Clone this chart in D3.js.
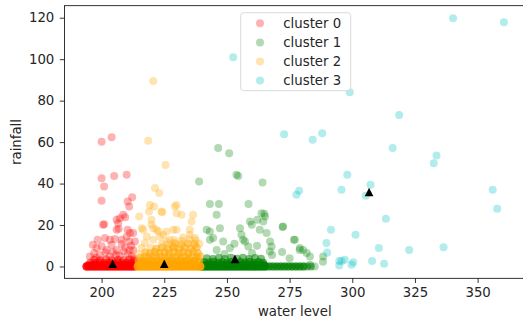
<!DOCTYPE html>
<html>
<head>
<meta charset="utf-8">
<script src="https://cdn.jsdelivr.net/npm/d3@7"></script>
<style>
  body { margin: 0; background: #fff; }
  svg { display: block; font-family: "DejaVu Sans", sans-serif; }
</style>
</head>
<body>
<svg id="chart" width="523" height="320"></svg>
<script>
// tick labels
const xTicks = [200, 225, 250, 275, 300, 325, 350];
const yTicks = [0, 20, 40, 60, 80, 100, 120];

const clusterNames = ["cluster 0", "cluster 1", "cluster 2", "cluster 3"];
const clusterColors = ["#ff0000", "#008000", "#ffa500", "#00bfbf"];

// centroids [water level, rainfall]
const centroids = [[204.4, 1.3], [253.2, 3.6], [225.0, 1.3], [306.7, 35.9]];

// scattered points [water level, rainfall]
const scatter0 = [
  [200.0, 60.2], [204.0, 62.4], [200.0, 42.6], [205.0, 43.7], [210.0, 44.2], [201.0, 38.6],
  [200.0, 31.7], [210.4, 31.3], [212.2, 33.4], [211.0, 28.9], [201.0, 20.4], [206.0, 22.5],
  [207.3, 23.3], [209.4, 23.8], [208.6, 24.9], [206.8, 18.2], [210.4, 17.7], [212.6, 16.1],
  [211.3, 16.1], [206.0, 17.7], [198.4, 12.9], [201.3, 13.7], [203.3, 12.9], [205.3, 13.3],
  [208.0, 12.9], [211.0, 12.0], [213.3, 12.0], [198.0, 8.9], [202.0, 8.0], [206.0, 8.0],
  [209.3, 9.3], [212.6, 8.0], [195.3, 4.8], [199.3, 5.6], [203.3, 4.8], [207.3, 5.2],
  [212.0, 4.8], [200.6, 20.1], [206.6, 20.9], [197.0, 6.5], [204.5, 7.0], [210.5, 6.0],
  [196.5, 10.5], [204.0, 10.5], [208.0, 10.8], [211.8, 10.0], [200.0, 9.8], [210.0, 14.3],
  [201.5, 6.8], [205.8, 5.5], [208.8, 7.2], [211.2, 7.8], [197.8, 4.2], [213.0, 4.0]
];
const scatter1 = [
  [253.8, 44.2], [254.5, 43.7], [238.9, 41.0], [264.2, 40.5], [243.2, 30.1], [246.8, 30.1],
  [258.6, 30.1], [264.9, 25.4], [259.2, 21.7], [262.1, 22.5], [241.9, 17.7], [247.2, 18.5],
  [255.2, 18.5], [272.4, 19.3], [263.1, 17.7], [267.2, 12.0], [277.1, 12.9], [279.1, 8.9],
  [280.4, 8.0], [265.8, 16.1], [243.2, 12.9], [248.5, 12.0], [256.5, 12.9], [258.5, 9.6],
  [245.9, 8.0], [251.2, 8.9], [288.4, 4.8], [246.5, 57.1], [250.9, 54.6], [245.9, 24.9],
  [243.2, 16.9], [244.5, 13.7], [255.8, 15.3], [257.2, 12.0], [259.9, 20.1], [263.8, 25.7],
  [265.2, 24.1], [264.5, 21.7], [267.8, 9.6], [267.1, 7.2], [281.8, 6.5], [283.1, 4.8],
  [268.0, 5.6], [276.7, 12.9], [272.2, 19.0], [279.0, 8.0], [262.0, 10.0], [253.0, 11.0],
  [249.0, 6.0], [260.0, 6.5], [272.0, 7.0], [275.0, 4.0], [288.3, 2.3], [283.1, 0.8]
];
const scatter2 = [
  [220.6, 89.5], [218.6, 60.6], [225.5, 49.0], [221.3, 37.8], [223.0, 35.4], [219.3, 29.7],
  [220.9, 28.9], [224.2, 26.2], [215.0, 24.1], [218.9, 26.5], [219.9, 22.5], [216.6, 17.7],
  [220.6, 18.5], [222.6, 16.9], [224.6, 15.3], [228.6, 17.7], [229.9, 29.7], [217.3, 11.3],
  [220.6, 12.9], [227.2, 12.9], [216.0, 8.9], [228.6, 9.6], [229.2, 28.9], [231.9, 24.9],
  [236.5, 24.9], [235.9, 21.7], [229.9, 17.7], [235.2, 17.7], [235.2, 15.3], [237.2, 13.7],
  [223.9, 26.5], [229.9, 25.7], [216.0, 18.5], [219.9, 20.1], [221.9, 17.7], [225.9, 16.9],
  [223.3, 14.5], [218.0, 14.5], [232.5, 14.0], [226.0, 12.0], [214.5, 6.0]
];
const scatter3 = [
  [252.5, 100.9], [340.2, 119.7], [360.5, 117.8], [299.0, 84.0], [318.7, 73.1], [316.1, 57.1],
  [333.6, 53.5], [332.5, 49.8], [298.0, 44.2], [295.7, 37.0], [307.3, 39.4], [305.4, 34.1],
  [356.0, 37.0], [357.8, 27.8], [313.4, 23.0], [301.3, 15.3], [310.6, 8.9], [322.7, 8.0],
  [336.4, 9.3], [307.9, 2.7], [312.7, 1.3], [300.4, 2.1], [299.7, 0.8], [295.7, 2.7],
  [297.0, 3.2], [272.8, 63.8], [284.2, 61.1], [288.0, 64.3], [278.8, 36.5], [277.7, 34.6],
  [291.5, 17.7], [289.7, 11.3], [290.0, 6.7], [294.8, 2.7], [294.8, 0.5]
];

// dense bands near zero rainfall [water level, rainfall, number of points]
const stack0 = [
  [194.0, 0, 6], [194.6, 0.6, 3], [195.2, 0, 6], [195.8, 0.6, 3], [196.4, 0, 6], [197.0, 0.6, 3],
  [197.6, 0, 6], [198.2, 0.6, 3], [198.8, 0, 6], [199.4, 0.6, 3], [200.0, 0, 6], [200.6, 0.6, 3],
  [201.2, 0, 6], [201.8, 0.6, 3], [202.4, 0, 6], [203.0, 0.6, 3], [203.6, 0, 6], [204.2, 0.6, 3],
  [204.8, 0, 6], [205.4, 0.6, 3], [206.0, 0, 6], [206.6, 0.6, 3], [207.2, 0, 6], [207.8, 0.6, 3],
  [208.4, 0, 6], [209.0, 0.6, 3], [209.6, 0, 6], [210.2, 0.6, 3], [210.8, 0, 6], [211.4, 0.6, 3],
  [212.0, 0, 6], [212.6, 0.6, 3], [213.2, 0, 5],
  [195.5, 1.8, 2], [197.3, 1.5, 3], [199.1, 1.9, 3], [200.9, 1.5, 3], [202.7, 1.8, 3],
  [204.6, 1.5, 3], [206.4, 1.9, 3], [208.2, 1.5, 3], [210.0, 1.8, 3], [211.8, 1.5, 3], [213.2, 1.8, 2],
  [197.0, 3.2, 2], [199.4, 3.0, 2], [201.8, 3.4, 2], [204.1, 3.0, 2], [206.5, 3.3, 2],
  [208.8, 3.0, 2], [211.1, 3.4, 2], [212.9, 2.9, 2]
];
const stack1 = [
  [240.2, 0, 6], [240.8, 0.7, 3], [241.4, 0, 6], [242.0, 0.7, 3], [242.6, 0, 6], [243.2, 0.7, 3],
  [243.8, 0, 6], [244.4, 0.7, 3], [245.0, 0, 6], [245.6, 0.7, 3], [246.2, 0, 6], [246.8, 0.7, 3],
  [247.4, 0, 6], [248.0, 0.7, 3], [248.6, 0, 6], [249.2, 0.7, 3], [249.8, 0, 6], [250.4, 0.7, 3],
  [251.0, 0, 6], [251.6, 0.7, 3], [252.2, 0, 6], [252.8, 0.7, 3], [253.4, 0, 6], [254.0, 0.7, 3],
  [254.6, 0, 6], [255.2, 0.7, 3], [255.8, 0, 6], [256.4, 0.7, 3], [257.0, 0, 6], [257.6, 0.7, 3],
  [258.2, 0, 6], [258.8, 0.7, 3], [259.4, 0, 6], [260.0, 0.7, 3], [260.6, 0, 6], [261.2, 0.7, 3],
  [261.8, 0, 6], [262.4, 0.7, 3], [263.0, 0, 6], [263.6, 0.7, 3], [264.2, 0, 6], [264.8, 0.7, 3],
  [265.4, 0, 6],
  [267.0, 0, 4], [268.5, 0, 4], [270.0, 0, 4], [271.5, 0, 4], [273.0, 0, 4], [274.5, 0, 4],
  [276.0, 0, 4], [277.5, 0, 4], [279.0, 0, 4], [280.5, 0, 4], [282.0, 0, 2], [283.5, 0, 2],
  [285.0, 0, 1],
  [241.0, 2.2, 3], [242.8, 1.8, 3], [244.6, 2.3, 3], [246.4, 1.8, 3], [248.2, 2.2, 3],
  [250.0, 1.8, 3], [251.8, 2.3, 3], [253.6, 1.8, 3], [255.4, 2.2, 3], [257.2, 1.8, 3],
  [259.0, 2.3, 3], [260.8, 1.8, 3], [262.6, 2.2, 3], [264.4, 1.8, 3],
  [242.0, 4.0, 2], [244.4, 3.6, 2], [246.8, 4.2, 2], [249.2, 3.6, 2], [251.6, 4.2, 2],
  [254.0, 3.7, 2], [256.4, 4.2, 2], [258.8, 3.6, 2], [261.2, 4.1, 2], [263.6, 3.7, 2]
];
const stack2 = [
  [214.4, 0, 6], [215.0, 0.8, 3], [215.6, 0, 6], [216.2, 0.8, 3], [216.8, 0, 6], [217.4, 0.8, 3],
  [218.0, 0, 6], [218.6, 0.8, 3], [219.2, 0, 6], [219.8, 0.8, 3], [220.4, 0, 6], [221.0, 0.8, 3],
  [221.6, 0, 6], [222.2, 0.8, 3], [222.8, 0, 6], [223.4, 0.8, 3], [224.0, 0, 6], [224.6, 0.8, 3],
  [225.2, 0, 6], [225.8, 0.8, 3], [226.4, 0, 6], [227.0, 0.8, 3], [227.6, 0, 6], [228.2, 0.8, 3],
  [228.8, 0, 6], [229.4, 0.8, 3], [230.0, 0, 6], [230.6, 0.8, 3], [231.2, 0, 6], [231.8, 0.8, 3],
  [232.4, 0, 6], [233.0, 0.8, 3], [233.6, 0, 6], [234.2, 0.8, 3], [234.8, 0, 6], [235.4, 0.8, 3],
  [236.0, 0, 6], [236.6, 0.8, 3], [237.2, 0, 6], [237.8, 0.8, 3], [238.4, 0, 6], [239.4, 0, 6],
  [214.8, 2.3, 3], [216.3, 2.8, 3], [217.8, 2.2, 3], [219.3, 2.8, 3], [220.8, 2.3, 3],
  [222.3, 2.8, 3], [223.8, 2.2, 3], [225.3, 2.8, 3], [226.8, 2.3, 3], [228.3, 2.8, 3],
  [229.8, 2.2, 3], [231.3, 2.8, 3], [232.8, 2.3, 3], [234.3, 2.8, 3], [235.8, 2.2, 3],
  [237.3, 2.8, 3], [238.8, 2.3, 3],
  [215.6, 4.2, 2], [217.2, 4.8, 2], [218.8, 4.3, 2], [220.4, 4.9, 2], [222.0, 4.2, 2],
  [223.6, 4.8, 2], [225.2, 4.3, 2], [226.8, 4.9, 2], [228.4, 4.2, 2], [230.0, 4.8, 2],
  [231.6, 4.3, 2], [233.2, 4.9, 2], [234.8, 4.2, 2], [236.4, 4.8, 2], [238.0, 4.3, 2],
  [239.3, 4.9, 2],
  [217.5, 6.8, 2], [219.4, 6.4, 2], [221.3, 7.1, 2], [223.2, 6.5, 2], [225.1, 7.0, 2],
  [227.0, 6.4, 2], [228.9, 7.1, 2], [230.8, 6.5, 2], [232.7, 7.0, 2], [234.6, 6.4, 2],
  [236.5, 7.1, 2], [238.4, 6.5, 2],
  [219.5, 9.0, 1], [221.8, 8.6, 2], [224.1, 9.2, 2], [226.4, 8.6, 2], [228.7, 9.1, 2],
  [231.0, 8.6, 2], [233.3, 9.2, 2], [235.6, 8.6, 2], [237.9, 9.1, 2],
  [224.0, 11.0, 1], [226.6, 10.6, 1], [229.2, 11.2, 2], [231.8, 10.6, 2], [234.4, 11.1, 2],
  [237.0, 10.7, 2], [239.0, 11.0, 1],
  [229.0, 12.8, 1], [232.0, 12.4, 1], [235.0, 13.0, 1], [237.5, 12.5, 1]
];
const stack3 = [];

const scatters = [scatter0, scatter1, scatter2, scatter3];
const stacks = [stack0, stack1, stack2, stack3];

const plotLeft = 64.5, plotRight = 525, plotTop = 5.7, plotBottom = 278.3;

const svg = d3.select("#chart");

const x = d3.scaleLinear().domain([185.2, 368.9]).range([plotLeft, plotRight]);
const y = d3.scaleLinear().domain([-5.7, 125.8]).range([plotBottom, plotTop]);

svg.append("defs").append("clipPath").attr("id", "plot-area")
  .append("rect")
  .attr("x", plotLeft).attr("y", plotTop)
  .attr("width", plotRight - plotLeft).attr("height", plotBottom - plotTop);

// points, one group per cluster
const plot = svg.append("g").attr("clip-path", "url(#plot-area)");

clusterNames.forEach((name, i) => {
  const pts = scatters[i].slice();
  stacks[i].forEach(s => {
    for (let k = 0; k < s[2]; k++) pts.push([s[0], s[1]]);
  });
  plot.append("g")
    .selectAll("circle")
    .data(pts)
    .enter()
    .append("circle")
    .attr("cx", d => x(d[0]))
    .attr("cy", d => y(d[1]))
    .attr("r", 4)
    .attr("fill", clusterColors[i])
    .attr("fill-opacity", 0.3);
});

// centroids as black triangles
plot.selectAll("path.centroid")
  .data(centroids)
  .enter()
  .append("path")
  .attr("class", "centroid")
  .attr("d", "M0,-4.3L4.3,4.3L-4.3,4.3Z")
  .attr("transform", d => "translate(" + x(d[0]) + "," + y(d[1]) + ")")
  .attr("fill", "#000");

// axes
const xAxis = svg.append("g")
  .attr("transform", "translate(0," + plotBottom + ")")
  .call(d3.axisBottom(x).tickValues(xTicks).tickSize(4.7).tickPadding(4.5));
const yAxis = svg.append("g")
  .attr("transform", "translate(" + plotLeft + ",0)")
  .call(d3.axisLeft(y).tickValues(yTicks).tickSize(4.7).tickPadding(5.5));

[xAxis, yAxis].forEach(a => {
  a.select(".domain").remove();
  a.selectAll(".tick line").attr("stroke", "#000").attr("stroke-width", 0.8);
  a.selectAll(".tick text")
    .attr("fill", "#262626")
    .style("font-size", "13.3px")
    .style("font-family", "DejaVu Sans, sans-serif");
});

// frame
svg.append("rect")
  .attr("x", plotLeft).attr("y", plotTop)
  .attr("width", plotRight - plotLeft).attr("height", plotBottom - plotTop)
  .attr("fill", "none")
  .attr("stroke", "#000")
  .attr("stroke-width", 0.8);

// axis labels
svg.append("text")
  .attr("x", (plotLeft + plotRight) / 2)
  .attr("y", 316)
  .attr("text-anchor", "middle")
  .attr("fill", "#262626")
  .style("font-size", "13.3px")
  .text("water level");

svg.append("text")
  .attr("transform", "translate(20.5," + (plotTop + plotBottom) / 2 + ")rotate(-90)")
  .attr("text-anchor", "middle")
  .attr("fill", "#262626")
  .style("font-size", "13.3px")
  .text("rainfall");

// legend
const legend = svg.append("g");
legend.append("rect")
  .attr("x", 240.7).attr("y", 12.7)
  .attr("width", 110).attr("height", 78)
  .attr("rx", 3)
  .attr("fill", "#fff").attr("fill-opacity", 0.8)
  .attr("stroke", "#d0d0d0").attr("stroke-width", 0.8);

clusterNames.forEach((name, i) => {
  const cy = 23.3 + i * 19.1;
  legend.append("circle")
    .attr("cx", 260).attr("cy", cy).attr("r", 4)
    .attr("fill", clusterColors[i]).attr("fill-opacity", 0.3);
  legend.append("text")
    .attr("x", 283.3).attr("y", cy)
    .attr("dy", "0.36em")
    .attr("fill", "#262626")
    .style("font-size", "13.3px")
    .text(name);
});
</script>
</body>
</html>
